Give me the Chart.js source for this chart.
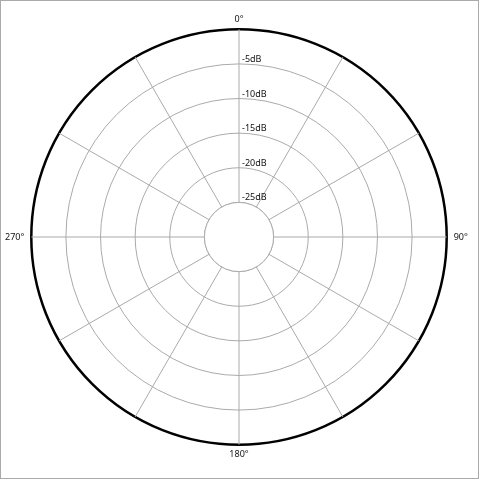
<!DOCTYPE html>
<html>
<head>
<meta charset="utf-8">
<script src="https://cdn.jsdelivr.net/npm/chart.js@4"></script>
<style>
  html, body { margin: 0; padding: 0; background: #fff; }
  #frame { width: 479px; height: 479px; box-sizing: border-box; border: 1px solid #aaa; position: relative; }
  #polar { display: block; }
</style>
</head>
<body>
<div id="frame"><canvas id="polar" width="477" height="477"></canvas></div>
<script>
/* Polar pattern grid - 0 dB at the rim, -30 dB at the centre */
var angleLabels = ['0°','30°','60°','90°','120°','150°','180°','210°','240°','270°','300°','330°'];
var shownAngles = ['0°','90°','180°','270°'];
var dbTicks     = [-25, -20, -15, -10, -5];
var dbMin = -30, dbMax = 0, dbStep = 5;

var FONT = '"Noto Sans", "Open Sans", sans-serif';

/* blank the middle disc and write the dB labels next to the 0° line */
var innerDisc = {
    id: 'innerDisc',
    beforeDatasetsDraw: function(chart) {
        var s = chart.scales.r, ctx = chart.ctx;
        var r = s.getDistanceFromCenterForValue(dbTicks[0]);
        ctx.save();
        ctx.beginPath();
        ctx.arc(s.xCenter, s.yCenter, r, 0, Math.PI * 2);
        ctx.fillStyle = '#fff';
        ctx.fill();
        ctx.strokeStyle = '#aaa';
        ctx.lineWidth = 1;
        ctx.stroke();

        ctx.font = '9px ' + FONT;
        ctx.fillStyle = '#111';
        ctx.textAlign = 'left';
        ctx.textBaseline = 'alphabetic';
        for (var i = 0; i < dbTicks.length; i++) {
            var d = s.getDistanceFromCenterForValue(dbTicks[i]);
            ctx.fillText(dbTicks[i] + 'dB', s.xCenter + 3, s.yCenter - d - 2);
        }
        ctx.restore();
    }
};

new Chart(document.getElementById('polar'), {
    type: 'radar',
    data: { labels: angleLabels, datasets: [] },
    options: {
        responsive: false,
        animation: false,
        layout: { padding: { top: 5, bottom: 9, left: 2, right: 7 } },
        plugins: { legend: { display: false }, tooltip: { enabled: false } },
        scales: {
            r: {
                min: dbMin,
                max: dbMax,
                ticks: { stepSize: dbStep, display: false },
                grid: {
                    circular: true,
                    color: function(c) { return c.tick && c.tick.value === dbMax ? '#000' : '#aaa'; },
                    lineWidth: function(c) { return c.tick && c.tick.value === dbMax ? 2.5 : 1; }
                },
                angleLines: { color: '#aaa', lineWidth: 1 },
                pointLabels: {
                    // top/bottom labels sit closer to the rim than the side ones
                    padding: function(c) { return (c.index % 6 === 0) ? 4 : 7; },
                    color: '#111',
                    font: { family: FONT, size: 9 },
                    callback: function(v) { return shownAngles.indexOf(v) >= 0 ? v : ''; }
                }
            }
        }
    },
    plugins: [innerDisc]
});
</script>
</body>
</html>
